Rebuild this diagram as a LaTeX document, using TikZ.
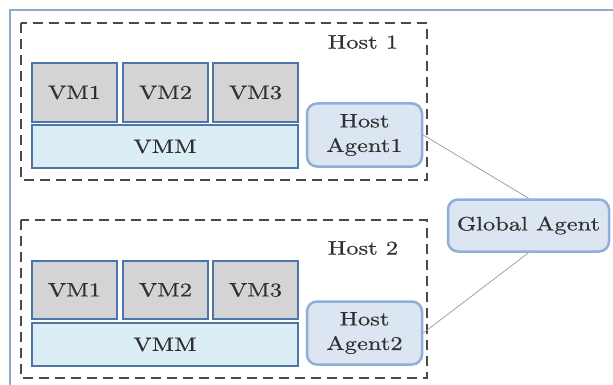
\documentclass[tikz,border=0pt]{standalone}
\usepackage{fontspec}
\usepackage{graphicx}
\newfontfamily\lblfont{lmroman10-regular.otf}[FakeBold=0.5]
\definecolor{vmfill}{HTML}{D4D4D6}
\definecolor{vmline}{HTML}{4F74A8}
\definecolor{vmmfill}{HTML}{DCEEF5}
\definecolor{agfill}{HTML}{DCE6F2}
\definecolor{agline}{HTML}{8FAEDA}
\definecolor{frameline}{HTML}{8FA9CC}
\definecolor{hostline}{HTML}{4A4A4A}
\definecolor{txt}{HTML}{303030}
\newcommand{\wtext}[1]{\scalebox{2.45}[1.95]{\lblfont #1}}
\newcommand{\wstack}[2]{\scalebox{2.45}[1.95]{\lblfont\begin{tabular}{@{}c@{}}#1\\[0.6pt]#2\end{tabular}}}
\tikzset{
  vmbox/.style={draw=vmline, line width=1.3pt, fill=vmfill, inner sep=0pt, text=txt},
  vmmbox/.style={draw=vmline, line width=1.3pt, fill=vmmfill, inner sep=0pt, text=txt},
  agent/.style={draw=agline, line width=2.5pt, fill=agfill, rounded corners=10pt, inner sep=0pt, text=txt},
  hostbox/.style={draw=hostline, line width=2pt, dash pattern=on 10pt off 6pt},
  link/.style={draw=black!40, line width=0.7pt},
  lbl/.style={text=txt, inner sep=0pt}
}
\begin{document}
\begin{tikzpicture}[x=1pt, y=-1pt]
\useasboundingbox (0,0) rectangle (613,385);
\clip (0,0) rectangle (613,385);
\fill[white] (0,0) rectangle (613,385);
% enclosing frame
\draw[frameline, line width=1.6pt] (10,10) rectangle (650,420);

% host 1
\draw[hostbox] (21,23) rectangle (427,180);
\node[lbl] (h1) at (363,42) {\wtext{Host 1}};
\node[vmbox, minimum width=85pt, minimum height=59pt] (vm11) at (74.5,92.5) {\wtext{VM1}};
\node[vmbox, minimum width=85pt, minimum height=59pt] (vm12) at (165.5,92.5) {\wtext{VM2}};
\node[vmbox, minimum width=85pt, minimum height=59pt] (vm13) at (255.5,92.5) {\wtext{VM3}};
\node[vmmbox, minimum width=266pt, minimum height=43pt] (vmm1) at (165,146.5) {\wtext{VMM}};
\node[agent, minimum width=115pt, minimum height=63pt] (ha1) at (364.5,135) {\wstack{Host}{Agent1}};

% host 2
\draw[hostbox] (21,220) rectangle (427,378);
\node[lbl] (h2) at (363,248) {\wtext{Host 2}};
\node[vmbox, minimum width=85pt, minimum height=58pt] (vm21) at (74.5,290) {\wtext{VM1}};
\node[vmbox, minimum width=85pt, minimum height=58pt] (vm22) at (165.5,290) {\wtext{VM2}};
\node[vmbox, minimum width=85pt, minimum height=58pt] (vm23) at (255.5,290) {\wtext{VM3}};
\node[vmmbox, minimum width=266pt, minimum height=43pt] (vmm2) at (165,344.5) {\wtext{VMM}};
\node[agent, minimum width=115pt, minimum height=63pt] (ha2) at (364.5,333) {\wstack{Host}{Agent2}};

% global agent
\node[agent, minimum width=161pt, minimum height=52pt] (ga) at (528.5,225.5) {\wtext{Global Agent}};

\draw[link] (ha1.east) -- (ga.north);
\draw[link] (ga.south) -- (ha2.east);
\end{tikzpicture}
\end{document}
